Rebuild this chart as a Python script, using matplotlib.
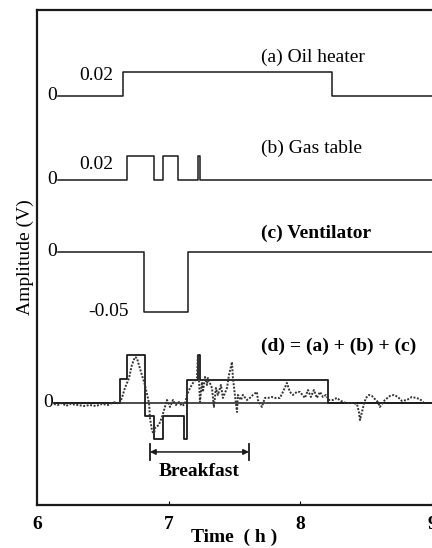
import matplotlib.pyplot as plt

plt.rcParams['font.family'] = ['Liberation Serif', 'DejaVu Serif']

# switching times (h) and levels (V) of each appliance
heater_t = [6.16, 6.65, 8.24, 9.0]
heater_v = [0, 0.02, 0, 0]
gas_t = [6.16, 6.68, 6.89, 6.96, 7.07, 7.22, 7.24, 9.0]
gas_v = [0, 0.02, 0, 0.02, 0, 0.02, 0, 0]
vent_t = [6.16, 6.81, 7.15, 9.0]
vent_v = [0, -0.05, 0, 0]
sum_t = [6.13, 6.63, 6.68, 6.82, 6.89, 6.96, 7.12, 7.14, 7.22, 7.24, 8.21, 9.0]
sum_v = [0, 0.02, 0.04, -0.011, -0.03, -0.011, -0.03, 0.019, 0.04, 0.019, 0, 0]

# measured signal (dotted)
meas_t = [6.129, 6.159, 6.190, 6.220, 6.251, 6.311, 6.357, 6.402, 6.448, 6.494,
          6.539, 6.569, 6.600, 6.623, 6.645, 6.668, 6.699, 6.721, 6.744, 6.759,
          6.774, 6.797, 6.820, 6.851, 6.858, 6.873, 6.888, 6.896, 6.926, 6.949,
          6.972, 6.987, 7.010, 7.033, 7.055, 7.078, 7.101, 7.124, 7.139, 7.162,
          7.185, 7.215, 7.222, 7.238, 7.253, 7.260, 7.276, 7.291, 7.298, 7.329,
          7.344, 7.359, 7.374, 7.397, 7.412, 7.443, 7.458, 7.481, 7.488, 7.503,
          7.519, 7.526, 7.549, 7.564, 7.595, 7.617, 7.640, 7.670, 7.678, 7.708,
          7.731, 7.754, 7.784, 7.807, 7.845, 7.868, 7.898, 7.921, 7.944, 7.974,
          7.997, 8.035, 8.058, 8.080, 8.103, 8.126, 8.149, 8.172, 8.194, 8.217,
          8.248, 8.278, 8.308, 8.346, 8.392, 8.430, 8.445, 8.453, 8.468, 8.483,
          8.498, 8.521, 8.544, 8.566, 8.589, 8.604, 8.642, 8.680, 8.711, 8.741,
          8.771, 8.809, 8.847, 8.878, 8.908, 8.939]
meas_v = [-0.0008, -0.0017, 0.0, -0.0025, -0.0008, -0.0017, -0.0025, -0.0017, -0.0025, -0.0008,
          -0.0017, 0.0, 0.0008, -0.0008, 0.0042, 0.0125, 0.0208, 0.0317, 0.0383, 0.0375,
          0.0317, 0.0233, 0.015, 0.0, -0.0125, -0.0225, -0.0267, -0.0208, -0.0183, -0.0117,
          -0.0033, 0.0025, -0.0033, 0.0025, -0.0017, 0.0008, -0.0025, -0.0008, 0.0067, 0.0125,
          0.0167, 0.0208, 0.04, 0.0008, 0.0175, 0.0092, 0.0217, 0.015, 0.0208, 0.0125,
          -0.0033, 0.0125, 0.0067, 0.015, 0.0042, 0.0125, 0.0233, 0.0342, 0.0208, 0.0067,
          -0.0075, 0.0067, 0.0025, 0.0067, 0.0025, 0.0042, 0.0067, 0.0092, 0.0025, -0.0033,
          0.0042, 0.0042, 0.005, 0.0042, 0.0042, 0.0092, 0.0167, 0.0092, 0.0067, 0.0092,
          0.0092, 0.0042, 0.0108, 0.005, 0.0108, 0.0042, 0.0092, 0.005, 0.0067, 0.0025,
          0.0025, 0.0042, 0.0017, 0.0, 0.0, -0.0008, -0.0075, -0.0142, -0.0075, -0.0008,
          0.0042, 0.0067, 0.0058, 0.0033, 0.0008, -0.0033, 0.0025, 0.0058, 0.0067, 0.005,
          0.0017, 0.0025, 0.005, 0.0042, 0.0033, 0.0]

labels = ['(a) Oil heater', '(b) Gas table', '(c) Ventilator', '(d) = (a) + (b) + (c)']
offsets = [0.341, 0.271, 0.211, 0.085]   # vertical position of each trace's zero line
breakfast = [6.858, 7.61]

fig = plt.figure(figsize=(4.32, 5.48), dpi=100)
ax = fig.add_axes([0.0856, 0.0785, 0.9144, 0.9033])
ink = '#1a1a1a'

ax.step(heater_t, [v + offsets[0] for v in heater_v], where='post', color=ink, lw=1.1)
ax.step(gas_t, [v + offsets[1] for v in gas_v], where='post', color=ink, lw=1.1)
ax.step(vent_t, [v + offsets[2] for v in vent_v], where='post', color=ink, lw=1.1)
ax.hlines(offsets[3], sum_t[0], sum_t[-1], color=ink, lw=1.1)
ax.step(sum_t, [v + offsets[3] for v in sum_v], where='post', color=ink, lw=1.3)
ax.plot(meas_t, [v + offsets[3] for v in meas_v], ls=(0, (1, 0.8)), color='#333333', lw=1.4)

# level labels
fs = 14
ax.text(6.15, offsets[0], '0', ha='right', va='center', fontsize=fs)
ax.text(6.58, offsets[0] + 0.017, '0.02', ha='right', va='center', fontsize=fs)
ax.text(6.15, offsets[1], '0', ha='right', va='center', fontsize=fs)
ax.text(6.58, offsets[1] + 0.013, '0.02', ha='right', va='center', fontsize=fs)
ax.text(6.15, offsets[2], '0', ha='right', va='center', fontsize=fs)
ax.text(6.70, offsets[2] - 0.05, '-0.05', ha='right', va='center', fontsize=fs)
ax.text(6.12, offsets[3], '0', ha='right', va='center', fontsize=fs)

label_y = [0.3733, 0.2975, 0.2267, 0.1325]
weights = ['normal', 'normal', 'bold', 'bold']
for lab, ly, w in zip(labels, label_y, weights):
    ax.text(7.70, ly, lab, ha='left', va='center', fontsize=fs, fontweight=w)

# breakfast span
by = 0.0442
ax.annotate('', xy=(breakfast[1], by), xytext=(breakfast[0], by),
            arrowprops=dict(arrowstyle='<|-|>', color=ink, lw=1.1, mutation_scale=8,
                            shrinkA=0, shrinkB=0))
ax.plot([breakfast[0], breakfast[0]], [by - 0.007, by + 0.007], color=ink, lw=1.3)
ax.plot([breakfast[1], breakfast[1]], [by - 0.007, by + 0.007], color=ink, lw=1.3)
ax.text(sum(breakfast) / 2, 0.028, 'Breakfast', ha='center', va='center',
        fontsize=fs, fontweight='bold')

ax.set_xlim(6, 9)
ax.set_ylim(0, 0.4125)
ax.set_xticks([6, 7, 8, 9])
ax.set_xticklabels(['6', '7', '8', '9'], fontsize=14, fontweight='bold')
ax.tick_params(axis='x', direction='in', length=3, pad=8)
ax.set_yticks([])
ax.spines['right'].set_visible(False)
for s in ['left', 'top', 'bottom']:
    ax.spines[s].set_linewidth(1.6)
    ax.spines[s].set_color(ink)
ax.set_xlabel('Time  ( h )', fontsize=14, fontweight='bold', labelpad=-3)
ax.set_ylabel('Amplitude (V)', fontsize=14, labelpad=2)

fig.savefig('out.png', dpi=100)
